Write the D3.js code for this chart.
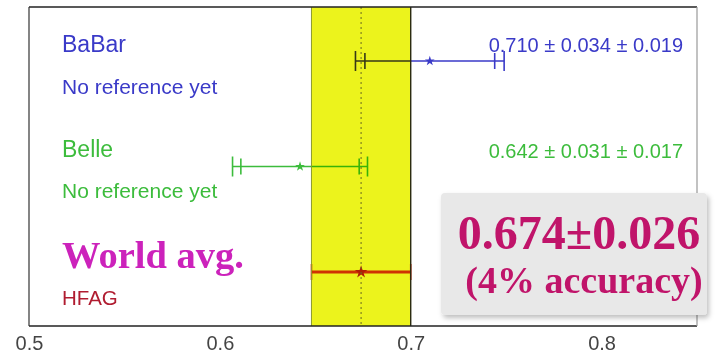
<!DOCTYPE html>
<html><head><meta charset="utf-8">
<script src="https://cdn.jsdelivr.net/npm/d3@7"></script>
<style>html,body{margin:0;padding:0;background:#fff;}svg{display:block;}</style>
</head><body>
<svg id="c" width="719" height="357"></svg>
<script>
const rows = ["BaBar", "Belle", "World avg."];
const values = [0.710, 0.642, 0.674];
const statErr = [0.034, 0.031, 0.026];
const systErr = [0.019, 0.017, 0];
const rowColors = ["#3a3ac8", "#3cbc3c", "#e0341a"];
const resultText = ["0.710 \u00b1 0.034 \u00b1 0.019", "0.642 \u00b1 0.031 \u00b1 0.017", null];
const subText = ["No reference yet", "No reference yet", "HFAG"];
const xTicks = [0.5, 0.6, 0.7, 0.8];
const avgValue = 0.674, avgErr = 0.026;
const boxLines = ["0.674\u00b10.026", "(4% accuracy)"];

const svg = d3.select("#c");
const L = 29, R = 697, T = 7, B = 326;
const x = d3.scaleLinear().domain([0.5, 0.85]).range([L, R]);
const y = d3.scalePoint().domain(rows).range([61, 272]);

const defs = svg.append("defs");
const f = defs.append("filter").attr("id", "sh").attr("x", "-10%").attr("y", "-10%").attr("width", "130%").attr("height", "130%");
f.append("feDropShadow").attr("dx", 2).attr("dy", 3).attr("stdDeviation", 2.5).attr("flood-color", "#000").attr("flood-opacity", 0.25);

svg.append("rect").attr("x", L).attr("y", T).attr("width", R - L).attr("height", B - T).attr("fill", "#fff");

const g = svg.append("g");
rows.forEach((r, i) => {
  const c = rowColors[i], yy = y(r), v = values[i];
  const tot = Math.sqrt(statErr[i] ** 2 + systErr[i] ** 2);
  const lw = i === 2 ? 3 : 1.6;
  g.append("line").attr("x1", x(v - tot)).attr("x2", x(v + tot)).attr("y1", yy).attr("y2", yy)
    .attr("stroke", c).attr("stroke-width", lw);
  const caps = i === 2 ? [[v - tot, 8], [v + tot, 8]] :
    [[v - tot, 10], [v + tot, 10], [v - statErr[i], 8], [v + statErr[i], 8]];
  caps.forEach(([cv, h]) => {
    g.append("line").attr("x1", x(cv)).attr("x2", x(cv)).attr("y1", yy - h).attr("y2", yy + h)
      .attr("stroke", c).attr("stroke-width", 1.6);
  });
  g.append("path").attr("d", d3.symbol(d3.symbolStar, i === 2 ? 50 : 30)())
    .attr("transform", `translate(${x(v)},${yy})`).attr("fill", i === 2 ? "#c0202a" : c);
});

svg.append("rect").attr("x", x(avgValue - avgErr)).attr("y", T).attr("width", x(avgValue + avgErr) - x(avgValue - avgErr))
  .attr("height", B - T).attr("fill", "#ecf31c").style("mix-blend-mode", "multiply");
svg.append("line").attr("x1", x(avgValue - avgErr)).attr("x2", x(avgValue - avgErr)).attr("y1", T).attr("y2", B)
  .attr("stroke", "#8a9a30").attr("stroke-width", 1);
svg.append("line").attr("x1", x(avgValue + avgErr)).attr("x2", x(avgValue + avgErr)).attr("y1", T).attr("y2", B)
  .attr("stroke", "#2a2a10").attr("stroke-width", 1.4);
svg.append("line").attr("x1", x(avgValue)).attr("x2", x(avgValue)).attr("y1", T).attr("y2", B)
  .attr("stroke", "#6a6a20").attr("stroke-width", 1).attr("stroke-dasharray", "2,3");

svg.append("line").attr("x1", L).attr("x2", R).attr("y1", T).attr("y2", T).attr("stroke", "#222").attr("stroke-width", 1.5);
svg.append("line").attr("x1", L).attr("x2", R).attr("y1", B).attr("y2", B).attr("stroke", "#222").attr("stroke-width", 1.5);
svg.append("line").attr("x1", L).attr("x2", L).attr("y1", T).attr("y2", B).attr("stroke", "#333").attr("stroke-width", 1.2);
svg.append("line").attr("x1", R).attr("x2", R).attr("y1", T).attr("y2", B).attr("stroke", "#999").attr("stroke-width", 1.2);

const ax = svg.append("g").attr("transform", `translate(0,${B})`)
  .call(d3.axisBottom(x).tickValues(xTicks).tickSize(0).tickPadding(10).tickFormat(d3.format(".1f")));
ax.select(".domain").remove();
ax.selectAll("text").attr("font-family", "Liberation Sans, Arial, sans-serif").attr("font-size", 20).attr("fill", "#444");

const sans = "Liberation Sans, Arial, sans-serif";
svg.append("text").attr("x", 62).attr("y", y(rows[0]) - 9).attr("font-family", sans).attr("font-size", 23).attr("fill", rowColors[0]).text(rows[0]);
svg.append("text").attr("x", 62).attr("y", y(rows[0]) + 33).attr("font-family", sans).attr("font-size", 21).attr("fill", rowColors[0]).text(subText[0]);
svg.append("text").attr("x", 62).attr("y", y(rows[1]) - 10).attr("font-family", sans).attr("font-size", 23).attr("fill", rowColors[1]).text(rows[1]);
svg.append("text").attr("x", 62).attr("y", y(rows[1]) + 31).attr("font-family", sans).attr("font-size", 21).attr("fill", rowColors[1]).text(subText[1]);
svg.append("text").attr("x", 62).attr("y", y(rows[2]) - 4).attr("font-family", "Liberation Serif, Times New Roman, serif")
  .attr("font-weight", "bold").attr("font-size", 38.5).attr("fill", "#cc22bb").text(rows[2]);
svg.append("text").attr("x", 62).attr("y", y(rows[2]) + 33).attr("font-family", sans).attr("font-size", 20.5).attr("fill", "#b01c30").text(subText[2]);

[0, 1].forEach(i => {
  svg.append("text").attr("x", 683).attr("y", y(rows[i]) - 9).attr("text-anchor", "end")
    .attr("font-family", sans).attr("font-size", 20).attr("fill", rowColors[i]).text(resultText[i]);
});

svg.append("rect").attr("x", 441).attr("y", 193).attr("width", 266).attr("height", 122).attr("rx", 4)
  .attr("fill", "#e8e8e8").attr("filter", "url(#sh)");
svg.append("text").attr("x", 579).attr("y", 249).attr("text-anchor", "middle").attr("font-family", "Liberation Serif, Times New Roman, serif")
  .attr("font-weight", "bold").attr("font-size", 48).attr("fill", "#c0146a").text(boxLines[0]);
svg.append("text").attr("x", 584).attr("y", 293).attr("text-anchor", "middle").attr("font-family", "Liberation Serif, Times New Roman, serif")
  .attr("font-weight", "bold").attr("font-size", 38).attr("fill", "#c0146a").text(boxLines[1]);
</script>
</body></html>
